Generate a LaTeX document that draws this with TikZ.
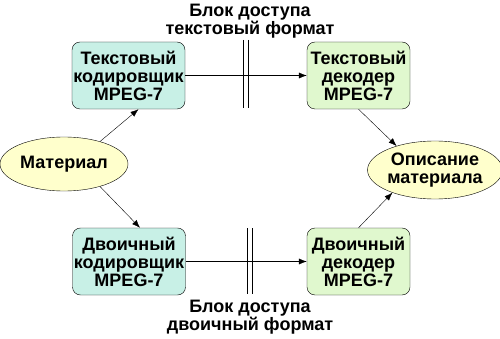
\documentclass[tikz,border=0pt]{standalone}
\usepackage{fontspec}
\setmainfont{Liberation Sans}
\usepackage{xcolor}
\usetikzlibrary{shapes.geometric, arrows.meta, positioning, calc}
\definecolor{encfill}{RGB}{200,240,230}
\definecolor{decfill}{RGB}{224,248,206}
\definecolor{ellfill}{RGB}{255,255,204}

\begin{document}
\begin{tikzpicture}[
    x=1pt, y=-1pt,
    font=\bfseries\fontsize{18}{18}\selectfont,
    encoder/.style={rectangle, rounded corners=8pt, minimum width=113pt, minimum height=67pt, inner sep=1pt, align=center, draw=black, fill=encfill},
    decoder/.style={rectangle, rounded corners=8pt, minimum width=103pt, minimum height=67pt, inner sep=1pt, align=center, draw=black, fill=decfill},
    material/.style={ellipse, inner sep=0pt, align=center, draw=black, fill=ellfill},
    label/.style={align=center, inner sep=0pt},
    arrow/.style={->,>={Latex[length=8pt,width=6pt]}},
    bar/.style={line width=0.8pt}
]
    \useasboundingbox (0,0) rectangle (500,339);

    \node (mat) [material, minimum width=128pt, minimum height=54pt] at (64,164) {Материал};
    \node (desc) [material, minimum width=126pt, minimum height=58pt] at (435,170) {Описание\\материала};

    \node (tenc) [encoder] at (128.5,75.5) {Текстовый\\кодировщик\\MPEG-7};
    \node (tdec) [decoder] at (358.5,75.5) {Текстовый\\декодер\\MPEG-7};
    \node (benc) [encoder] at (129,261.5) {Двоичный\\кодировщик\\MPEG-7};
    \node (bdec) [decoder] at (358.5,261.5) {Двоичный\\декодер\\MPEG-7};

    \node (tlabel) [label] at (250,21) {Блок доступа\\текстовый формат};
    \node (blabel) [label] at (250,317) {Блок доступа\\двоичный формат};

    % access block bars
    \draw [bar] (243,40) -- (243,108) (248,40) -- (248,108);
    \draw [bar] (247,228) -- (247,294) (252,228) -- (252,294);

    \draw [arrow] (tenc) -- (tdec);
    \draw [arrow] (benc) -- (bdec);
    \draw [arrow] (mat.32) -- ($(tenc.south)+(10,0)$);
    \draw [arrow] (mat.-32) -- ($(benc.north)+(11,0)$);
    \draw [arrow] (tdec.south) -- (desc.148);
    \draw [arrow] (bdec.north) -- (desc.-152);
\end{tikzpicture}
\end{document}
